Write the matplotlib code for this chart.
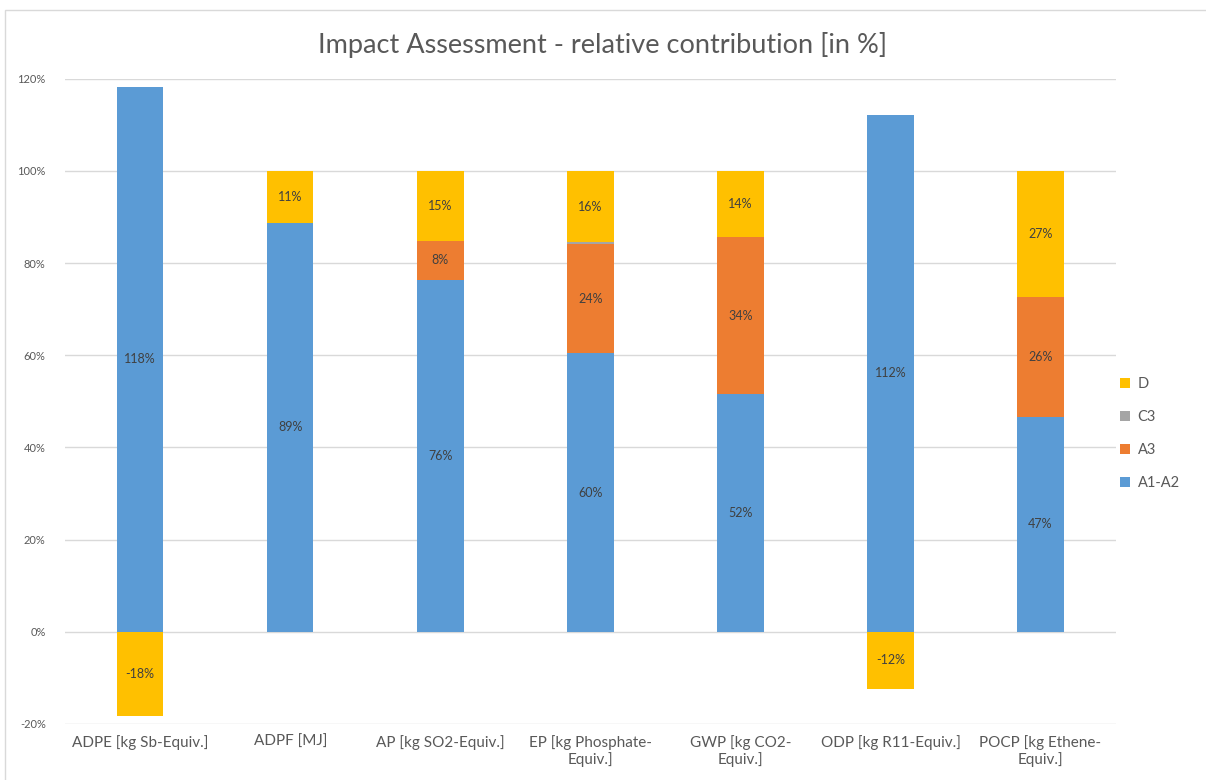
import numpy as np
import matplotlib.pyplot as plt
from matplotlib.patches import Rectangle

categories = ["ADPE [kg Sb-Equiv.]", "ADPF [MJ]", "AP [kg SO2-Equiv.]",
              "EP [kg Phosphate-\nEquiv.]", "GWP [kg CO2-\nEquiv.]",
              "ODP [kg R11-Equiv.]", "POCP [kg Ethene-\nEquiv.]"]

a1a2 = np.array([118.2, 88.7, 76.4, 60.4, 51.6, 112.2, 46.7])
a3 = np.array([0, 0, 8.4, 23.8, 34.0, 0, 26.0])
c3 = np.array([0, 0, 0, 0.3, 0, 0, 0])
d = np.array([-18.4, 11.3, 15.2, 15.5, 14.4, -12.4, 27.3])

series = [("A1-A2", a1a2, "#5B9BD5"),
          ("A3", a3, "#ED7D31"),
          ("C3", c3, "#A5A5A5"),
          ("D", d, "#FFC000")]

plt.rcParams['font.family'] = ['Lato', 'DejaVu Sans']

fig = plt.figure(figsize=(12.06, 7.8), dpi=100)
ax = fig.add_axes([0.054, 0.072, 0.871, 0.827])

x = np.arange(len(categories))
pos = np.zeros(len(categories))
neg = np.zeros(len(categories))
handles = []
for name, vals, col in series:
    vals = vals / 100.0
    bottom = np.where(vals >= 0, pos, neg)
    b = ax.bar(x, vals, 0.31, bottom=bottom, color=col, label=name, zorder=3)
    handles.append(b)
    for xi, v, bt in zip(x, vals, bottom):
        if abs(v) >= 0.05:
            ax.text(xi, bt + v / 2, f"{round(v * 100):d}%", ha='center', va='center',
                    fontsize=9, color='#404040', zorder=4)
    pos = pos + np.where(vals >= 0, vals, 0)
    neg = neg + np.where(vals < 0, vals, 0)

ax.set_xlim(-0.5, len(categories) - 0.5)
ax.set_ylim(-0.2, 1.2)
ax.set_yticks(np.arange(-0.2, 1.21, 0.2))
ax.set_yticklabels([f"{int(round(t * 100))}%" for t in np.arange(-0.2, 1.21, 0.2)])
ax.set_xticks(x)
ax.set_xticklabels(categories, fontsize=11, color='#595959')
ax.tick_params(axis='y', labelsize=8, colors='#595959', length=0, pad=14)
ax.tick_params(axis='x', length=0, pad=8)
ax.grid(axis='y', color='#D9D9D9', linewidth=1, zorder=0)
for s in ax.spines.values():
    s.set_visible(False)

fig.text(0.5, 0.942, "Impact Assessment - relative contribution [in %]",
         ha='center', va='center', fontsize=19.5, color='#595959')

leg = fig.legend(handles[::-1], [h.get_label() for h in handles[::-1]],
                 loc='center left', bbox_to_anchor=(0.918, 0.444), frameon=False,
                 fontsize=10.5, handlelength=0.7, handleheight=0.7,
                 labelspacing=1.3, handletextpad=0.5)
for t in leg.get_texts():
    t.set_color('#595959')

fig.patches.append(Rectangle((0.004, -0.01), 1.0, 0.997, transform=fig.transFigure,
                             fill=False, edgecolor='#D9D9D9', linewidth=1))

fig.savefig("out.png", dpi=100)
